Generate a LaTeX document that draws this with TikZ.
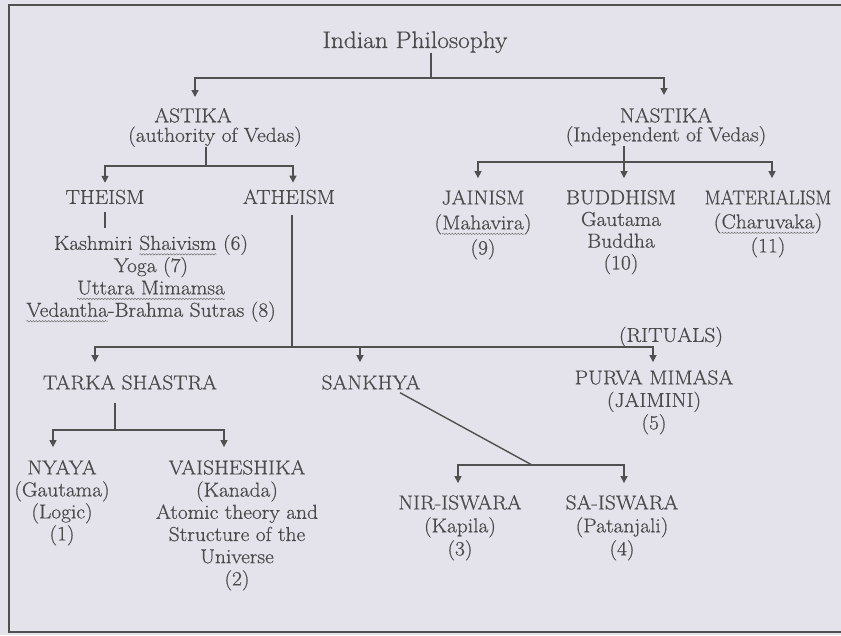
\documentclass[tikz,border=0pt]{standalone}
\usepackage{fontspec}
\setmainfont{Latin Modern Roman}[FakeStretch=1.06,FakeBold=0.6]
\usetikzlibrary{arrows.meta,calc,decorations.pathmorphing}
\definecolor{bg}{HTML}{E4E3EB}
\definecolor{txt}{HTML}{4A4A4A}
\definecolor{lnc}{HTML}{505050}
\definecolor{sqc}{HTML}{6E6E6E}
\newcommand\squig[1]{\tikz[baseline=(sq.base)]{\node[inner sep=0pt,outer sep=0pt,text=txt] (sq) {#1};\draw[sqc,line width=0.5pt,decorate,decoration={snake,amplitude=0.7pt,segment length=3pt}] ([yshift=-4.5pt]sq.base west) -- ([yshift=-4.5pt]sq.base east);}}
\tikzset{
  lbl/.style={inner sep=0pt,outer sep=0pt,text=txt,align=center,font={\fontsize{20.2}{#1}\selectfont}},
  lbl/.default=22,
  ttl/.style={inner sep=0pt,outer sep=0pt,text=txt,font={\fontsize{24}{28}\selectfont}},
  ln/.style={draw=lnc,line width=1.4pt},
  arr/.style={ln,-{Triangle[width=7pt,length=7pt]}},
  border/.style={draw=lnc,line width=2pt}
}
\begin{document}
\begin{tikzpicture}[x=1pt,y=-1pt]
\useasboundingbox (0,0) rectangle (841,635);
\fill[bg] (0,0) rectangle (841,635);
\draw[border] (841,5) -- (9,5) -- (9,632) -- (841,632);

% nodes
\node[ttl,anchor=base] (title) at (415,48) {Indian Philosophy};
\node[lbl=19.5,anchor=north] (astika) at (215,108) {ASTIKA\rule{44pt}{0pt}\\(authority of Vedas)};
\node[lbl=19,anchor=north] (nastika) at (666,108) {NASTIKA\\(Independent of Vedas)};
\node[lbl,anchor=base] (theism) at (105,203.9) {THEISM};
\node[lbl,anchor=base] (atheism) at (289,203.9) {ATHEISM};
\node[lbl=22.3,anchor=north] (shaiv) at (151,234.7) {Kashmiri \squig{Shaivism} (6)\\Yoga (7)\\\squig{Uttara Mimamsa}\\\squig{Vedantha}-Brahma Sutras (8)};
\node[lbl=25,anchor=north] (jainism) at (483,190.1) {JAINISM\\(\squig{Mahavira})\\(9)};
\node[lbl=21.7,anchor=north] (buddhism) at (621,190.1) {BUDDHISM\\Gautama\\Buddha\\(10)};
\node[lbl=24,anchor=north] (material) at (768,190.1) {\scalebox{0.88}[1]{MATERIALISM}\\(\squig{Charuvaka})\\(11)};
\node[lbl,anchor=base] (rituals) at (671,341.9) {(RITUALS)};
\node[lbl,anchor=base] (tarka) at (130,389.4) {TARKA SHASTRA};
\node[lbl,anchor=base] (sankhya) at (371,389.4) {SANKHYA};
\node[lbl=22.5,anchor=north] (purva) at (654,370.1) {PURVA MIMASA\\(JAIMINI)\\(5)};
\node[lbl=22,anchor=north] (nyaya) at (62,460.1) {NYAYA\\(Gautama)\\(Logic)\\(1)};
\node[lbl=22.2,anchor=north] (vaish) at (237,460.1) {VAISHESHIKA\\(Kanada)\\Atomic theory and\\Structure of the\\Universe\\(2)};
\node[lbl=23,anchor=north] (nir) at (460,495.1) {NIR-ISWARA\\(Kapila)\\(3)};
\node[lbl=23,anchor=north] (sa) at (622,495.1) {SA-ISWARA\\(Patanjali)\\(4)};

% level 1
\coordinate (j1) at (431,78);
\coordinate (tAst) at ($(astika.north)+(-20,-11)$);
\coordinate (tNas) at ($(nastika.north)+(-2,-13)$);
\draw[ln] (j1 |- title.south) -- (j1);
\draw[arr] (j1) -| (tAst);
\draw[arr] (j1) -| (tNas);

% astika
\coordinate (j2) at (206,166);
\coordinate (tThe) at ($(theism.north)+(0,-7)$);
\coordinate (tAth) at ($(atheism.north)+(4,-7)$);
\draw[ln] (j2 |- astika.south) -- (j2);
\draw[arr] (j2) -| (tThe);
\draw[arr] (j2) -| (tAth);

% nastika
\coordinate (j3) at (624,162);
\coordinate (tJai) at ($(jainism.north)+(-5,-12)$);
\coordinate (tBud) at ($(buddhism.north)+(3,-12)$);
\coordinate (tMat) at ($(material.north)+(4,-12)$);
\draw[arr] (tBud |- nastika.south) -- (tBud);
\draw[arr] (j3) -| (tJai);
\draw[arr] (j3) -| (tMat);

% theism
\coordinate (th1) at ($(theism.south)+(0,8)$);
\draw[ln] (th1) -- ($(th1 |- shaiv.north)+(0,-7)$);

% atheism
\coordinate (j4) at (292,347);
\coordinate (tTar) at ($(tarka.north)+(-35,-13)$);
\coordinate (tSan) at ($(sankhya.north)+(-11,-13)$);
\coordinate (tPur) at ($(purva.north)+(-1,-8)$);
\draw[ln] ($(j4 |- atheism.south)+(0,11)$) -- (j4);
\draw[arr] (j4) -| (tTar);
\draw[arr] (j4) -| (tPur);
\draw[arr] (tSan |- j4) -- (tSan);

% tarka shastra
\coordinate (j5) at (115,430);
\coordinate (tNya) at ($(nyaya.north)+(-9,-13)$);
\coordinate (tVai) at ($(vaish.north)+(-13,-13)$);
\draw[ln] ($(j5 |- tarka.south)+(0,13)$) -- (j5);
\draw[arr] (j5) -| (tNya);
\draw[arr] (j5) -| (tVai);

% sankhya
\coordinate (j6) at (532,465);
\coordinate (tNir) at ($(nir.north)+(-2,-12)$);
\coordinate (tSa) at ($(sa.north)+(2,-12)$);
\draw[ln] ($(sankhya.south)+(29,3)$) -- (j6);
\draw[arr] (j6) -| (tNir);
\draw[arr] (j6) -| (tSa);
\end{tikzpicture}
\end{document}
